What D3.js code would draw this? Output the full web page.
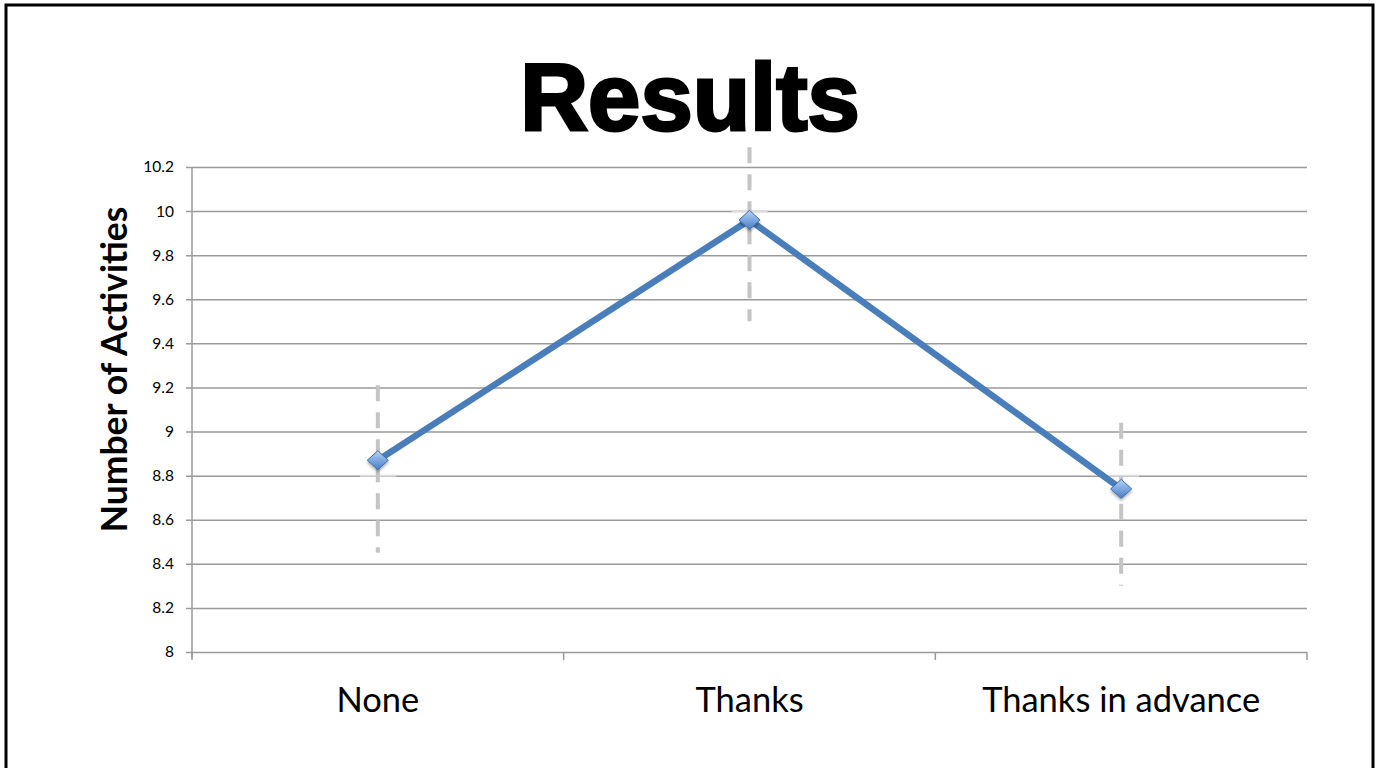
<!DOCTYPE html>
<html>
<head>
<meta charset="utf-8">
<script src="https://cdn.jsdelivr.net/npm/d3@7/dist/d3.min.js"></script>
<style>
  html, body { margin: 0; padding: 0; background: #fff; }
  svg { display: block; }
</style>
</head>
<body>
<script>
// Mean number of activities per condition, with error-bar extents
const categories = ["None", "Thanks", "Thanks in advance"];
const means = [8.87, 9.96, 8.74];
const errHigh = [9.21, 10.29, 9.04];
const errLow = [8.45, 9.50, 8.30];
const capLevels = [8.8, 10.0, 8.8];
const yTicks = [8, 8.2, 8.4, 8.6, 8.8, 9, 9.2, 9.4, 9.6, 9.8, 10, 10.2];
const titleText = "Results";
const yTitle = "Number of Activities";

const W = 1377, H = 768;
const plot = { left: 192, right: 1307, top: 167, bottom: 652 };

const svg = d3.select("body").append("svg")
  .attr("width", W).attr("height", H);

// slide frame
svg.append("rect")
  .attr("x", 6).attr("y", 5)
  .attr("width", 1367).attr("height", 780)
  .attr("fill", "none").attr("stroke", "#000").attr("stroke-width", 3);

const x = d3.scaleBand().domain(categories).range([plot.left, plot.right]);
const y = d3.scaleLinear().domain([8, 10.2]).range([plot.bottom, plot.top]);

// gridlines + y axis
const yAxis = d3.axisLeft(y).tickValues(yTicks).tickSize(-(plot.right - plot.left))
  .tickPadding(18).tickFormat(d => d3.format("~g")(d));
const gy = svg.append("g").attr("transform", `translate(${plot.left},0)`).call(yAxis);
gy.select(".domain").remove();
gy.selectAll(".tick line").attr("stroke", "#9a9a9a").attr("stroke-width", 1.5)
  .attr("x1", -6);
gy.selectAll(".tick text")
  .attr("font-family", "Lato, 'Open Sans', sans-serif")
  .attr("font-size", 15.5).attr("fill", "#000");

// vertical axis line
svg.append("line")
  .attr("x1", plot.left).attr("x2", plot.left)
  .attr("y1", plot.top).attr("y2", plot.bottom + 6)
  .attr("stroke", "#9a9a9a").attr("stroke-width", 1.5);

// x axis with category boundary ticks
const gx = svg.append("g").attr("transform", `translate(0,${plot.bottom})`)
  .call(d3.axisBottom(x).tickSize(0).tickPadding(36));
gx.select(".domain").remove();
gx.selectAll(".tick text")
  .attr("font-family", "Lato, 'Open Sans', sans-serif")
  .attr("font-size", 34.5).attr("fill", "#000");
const bounds = categories.map(c => x(c)).concat([x.range()[1]]);
svg.append("g").selectAll("line").data(bounds).join("line")
  .attr("x1", d => d).attr("x2", d => d)
  .attr("y1", plot.bottom).attr("y2", plot.bottom + 8)
  .attr("stroke", "#9a9a9a").attr("stroke-width", 1.5);

const cx = c => x(c) + x.bandwidth() / 2;

// light caps
svg.append("g").selectAll("line").data(capLevels).join("line")
  .attr("x1", (d, i) => cx(categories[i]) - 18)
  .attr("x2", (d, i) => cx(categories[i]) + 18)
  .attr("y1", d => y(d)).attr("y2", d => y(d))
  .attr("stroke", "#dcdcdc").attr("stroke-width", 2);

// dashed error bars
svg.append("g").selectAll("line").data(categories).join("line")
  .attr("x1", d => cx(d)).attr("x2", d => cx(d))
  .attr("y1", (d, i) => y(errHigh[i])).attr("y2", (d, i) => y(errLow[i]))
  .attr("stroke", "#c4c4c4").attr("stroke-width", 4)
  .attr("stroke-dasharray", "16,11");

// series line
const line = d3.line().x((d, i) => cx(categories[i])).y(d => y(d));
svg.append("path").datum(means)
  .attr("d", line)
  .attr("fill", "none").attr("stroke", "#4a7ebb").attr("stroke-width", 6.5)
  .attr("stroke-linejoin", "round");

// diamond markers
const defs = svg.append("defs");
const grad = defs.append("linearGradient").attr("id", "mk")
  .attr("x1", 0).attr("y1", 0).attr("x2", 0).attr("y2", 1);
grad.append("stop").attr("offset", "0%").attr("stop-color", "#b9d3f3");
grad.append("stop").attr("offset", "50%").attr("stop-color", "#7da7e0");
grad.append("stop").attr("offset", "100%").attr("stop-color", "#4a7ebb");
const shadow = defs.append("filter").attr("id", "sh")
  .attr("x", "-50%").attr("y", "-50%").attr("width", "200%").attr("height", "200%");
shadow.append("feDropShadow").attr("dx", 0).attr("dy", 2).attr("stdDeviation", 1.5)
  .attr("flood-color", "#000").attr("flood-opacity", 0.35);

svg.append("g").selectAll("path").data(means).join("path")
  .attr("transform", (d, i) => `translate(${cx(categories[i])},${y(d)})`)
  .attr("d", "M0,-9.5 L10.5,0 L0,9.5 L-10.5,0 Z")
  .attr("fill", "url(#mk)").attr("stroke", "#3c6fae").attr("stroke-width", 1)
  .attr("filter", "url(#sh)");

// titles
svg.append("text")
  .attr("x", 690).attr("y", 130)
  .attr("text-anchor", "middle")
  .attr("font-family", "'Liberation Sans', Arial, sans-serif")
  .attr("font-weight", "bold").attr("font-size", 94)
  .attr("stroke", "#000").attr("stroke-width", 3)
  .text(titleText);

svg.append("text")
  .attr("transform", `translate(127,${(207 + 532) / 2}) rotate(-90)`)
  .attr("text-anchor", "middle")
  .attr("font-family", "Lato, 'Open Sans', sans-serif")
  .attr("font-weight", "bold").attr("font-size", 35.5)
  .text(yTitle);
</script>
</body>
</html>
